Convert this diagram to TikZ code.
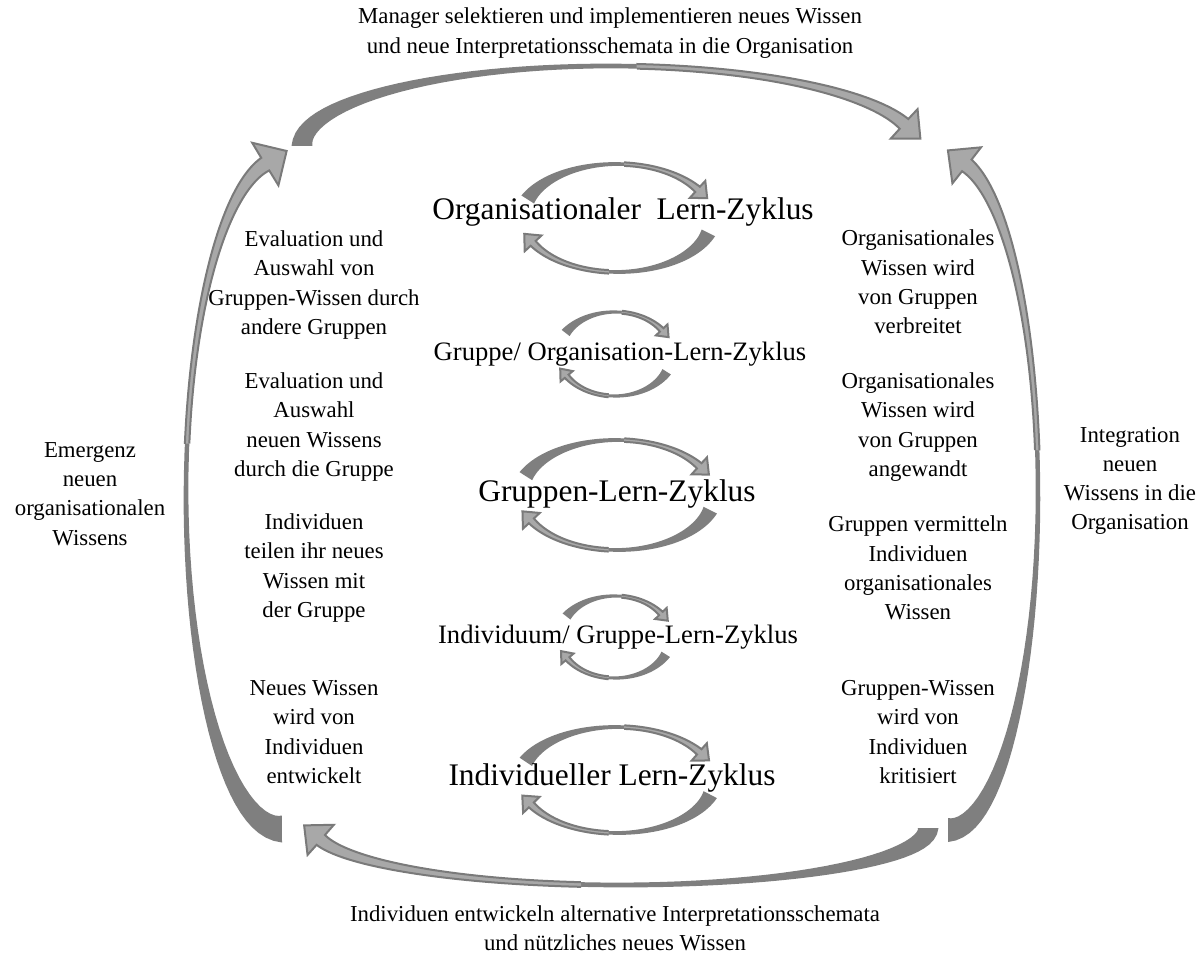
\documentclass[tikz,border=0pt]{standalone}
\usepackage{fontspec}
\setmainfont{Liberation Serif}
\definecolor{arrowdark}{HTML}{7F7F7F}
\definecolor{arrowlight}{HTML}{A8A8A8}
\definecolor{arrowrim}{HTML}{7A7A7A}

% parameters of a tapered elliptic arrow
\pgfkeys{
  /ca/cx/.store in=\caCx, /ca/cy/.store in=\caCy,
  /ca/a/.store in=\caA, /ca/b/.store in=\caB,
  /ca/from/.store in=\caFrom, /ca/to/.store in=\caTo,
  /ca/w0/.store in=\caWa, /ca/wm/.store in=\caWm, /ca/w1/.store in=\caWb,
  /ca/hw/.store in=\caHw, /ca/hl/.store in=\caHl,
  /ca/split/.store in=\caSplit,
  /ca/split=0.55
}

\tikzset{declare function={
  arth(\s)=\caFrom+\s*(\caTo-\caFrom);
  arwd(\s)=(1-\s)^2*\caWa+2*\s*(1-\s)*\caWm+\s^2*\caWb;
  arln(\t)=veclen(\caA/100*sin(\t),\caB/100*cos(\t));
  arnx(\t)=\caB/100*cos(\t)/arln(\t);
  arny(\t)=-\caA/100*sin(\t)/arln(\t);
  arx(\s,\q)=\caCx+\caA*cos(arth(\s))+\q*arwd(\s)/2*arnx(arth(\s));
  ary(\s,\q)=\caCy-\caB*sin(arth(\s))+\q*arwd(\s)/2*arny(arth(\s));
}}

% outline from parameter #1 to the head and back
\newcommand\arrowoutline[1]{%
  plot[domain=#1:1,samples=50,variable=\s] ({arx(\s,1)},{ary(\s,1)})
  -- ({\caPx+\caHw/2*\caNx},{\caPy+\caHw/2*\caNy})
  -- ({\caPx+\caHl*\caUx},{\caPy+\caHl*\caUy})
  -- ({\caPx-\caHw/2*\caNx},{\caPy-\caHw/2*\caNy})
  -- plot[domain=#1:1,samples=50,variable=\s] ({arx(1+#1-\s,-1)},{ary(1+#1-\s,-1)})}

\newcommand\ringarrow[1]{%
  \pgfkeys{/ca/.cd,#1}%
  \pgfmathsetmacro\caSgn{ifthenelse(\caTo>\caFrom,1,-1)}%
  \pgfmathsetmacro\caLe{veclen(\caA/100*sin(\caTo),\caB/100*cos(\caTo))}%
  \pgfmathsetmacro\caNx{\caB/100*cos(\caTo)/\caLe}%
  \pgfmathsetmacro\caNy{-\caA/100*sin(\caTo)/\caLe}%
  \pgfmathsetmacro\caUx{-\caSgn*\caA/100*sin(\caTo)/\caLe}%
  \pgfmathsetmacro\caUy{-\caSgn*\caB/100*cos(\caTo)/\caLe}%
  \pgfmathsetmacro\caPx{\caCx+\caA*cos(\caTo)}%
  \pgfmathsetmacro\caPy{\caCy-\caB*sin(\caTo)}%
  \fill[arrowdark] \arrowoutline{0} -- cycle;
  \fill[arrowlight] \arrowoutline{\caSplit} -- cycle;
  \draw[arrowrim,line width=1pt,line join=miter] \arrowoutline{\caSplit};
}

\begin{document}
\begin{tikzpicture}[x=0.5pt,y=-0.5pt,
  lbl/.style={align=center,font=\fontsize{11.4}{14.6}\selectfont},
  cycbig/.style={font=\fontsize{15.7}{18}\selectfont},
  cycsmall/.style={font=\fontsize{13.3}{16}\selectfont}]
\useasboundingbox (0,0) rectangle (1199,962);

% outer loop
\ringarrow{cx=609,cy=146,a=307,b=80,from=180,to=16,w0=21,wm=-7,w1=13,hw=40,hl=22,split=0.58}
\ringarrow{cx=948,cy=494,a=90,b=336,from=-90,to=78,w0=24,wm=-10,w1=15,hw=46,hl=24,split=0.58}
\ringarrow{cx=621,cy=828,a=307,b=57,from=0,to=-168,w0=21,wm=-7,w1=13,hw=40,hl=22,split=0.58}
\ringarrow{cx=282,cy=494,a=96,b=335,from=270,to=100,w0=27,wm=-11,w1=15,hw=50,hl=25,split=0.58}

% inner cycles
\ringarrow{cx=617,cy=218,w0=15,wm=-3,w1=7,hw=23,hl=13,a=95,b=54,from=160,to=32}
\ringarrow{cx=617,cy=218,w0=15,wm=-3,w1=7,hw=23,hl=13,a=95,b=54,from=-16,to=-152}
\ringarrow{cx=615,cy=354,w0=10,wm=-1,w1=5,hw=16,hl=10,a=57,b=42,from=150,to=35}
\ringarrow{cx=615,cy=354,w0=10,wm=-1,w1=5,hw=16,hl=10,a=57,b=42,from=-25,to=-148}
\ringarrow{cx=617,cy=495,w0=15,wm=-3,w1=7,hw=23,hl=13,a=97,b=55,from=160,to=32}
\ringarrow{cx=617,cy=495,w0=15,wm=-3,w1=7,hw=23,hl=13,a=97,b=55,from=-16,to=-152}
\ringarrow{cx=615,cy=637,w0=10,wm=-1,w1=5,hw=16,hl=10,a=56,b=41,from=150,to=35}
\ringarrow{cx=615,cy=637,w0=10,wm=-1,w1=5,hw=16,hl=10,a=56,b=41,from=-25,to=-148}
\ringarrow{cx=617,cy=780,w0=15,wm=-3,w1=7,hw=23,hl=13,a=97,b=53,from=160,to=32}
\ringarrow{cx=617,cy=780,w0=15,wm=-3,w1=7,hw=23,hl=13,a=97,b=53,from=-16,to=-152}

% cycle titles
\node[cycbig] (orgcyc) at (623,212) {Organisationaler\ \ Lern-Zyklus};
\node[cycsmall] (grporgcyc) at (620,354) {Gruppe/ Organisation-Lern-Zyklus};
\node[cycbig] (grpcyc) at (617,494) {Gruppen-Lern-Zyklus};
\node[cycsmall] (indgrpcyc) at (618,637) {Individuum/ Gruppe-Lern-Zyklus};
\node[cycbig] (indcyc) at (612,778) {Individueller Lern-Zyklus};

% outer labels
\node[lbl] (top) at (610,33) {Manager selektieren und implementieren neues Wissen\\und neue Interpretationsschemata in die Organisation};
\node[lbl] (bottom) at (615,928) {Individuen entwickeln alternative Interpretationsschemata\\und nützliches neues Wissen};
\node[lbl] (left) at (90,494) {Emergenz\\neuen\\organisationalen\\Wissens};
\node[lbl] (right) at (1130,481) {Integration\\neuen\\Wissens in die\\Organisation};

% left column
\node[lbl] (l1) at (314,285) {Evaluation und\\Auswahl von\\Gruppen-Wissen durch\\andere Gruppen};
\node[lbl] (l2) at (314,427) {Evaluation und\\Auswahl\\neuen Wissens\\durch die Gruppe};
\node[lbl] (l3) at (314,568) {Individuen\\teilen ihr neues\\Wissen mit\\der Gruppe};
\node[lbl] (l4) at (314,732) {Neues Wissen\\wird von\\Individuen\\entwickelt};

% right column
\node[lbl] (r1) at (918,282) {Organisationales\\Wissen wird\\von Gruppen\\verbreitet};
\node[lbl] (r2) at (918,427) {Organisationales\\Wissen wird\\von Gruppen\\angewandt};
\node[lbl] (r3) at (918,568) {Gruppen vermitteln\\Individuen\\organisationales\\Wissen};
\node[lbl] (r4) at (918,732) {Gruppen-Wissen\\wird von\\Individuen\\kritisiert};
\end{tikzpicture}
\end{document}
